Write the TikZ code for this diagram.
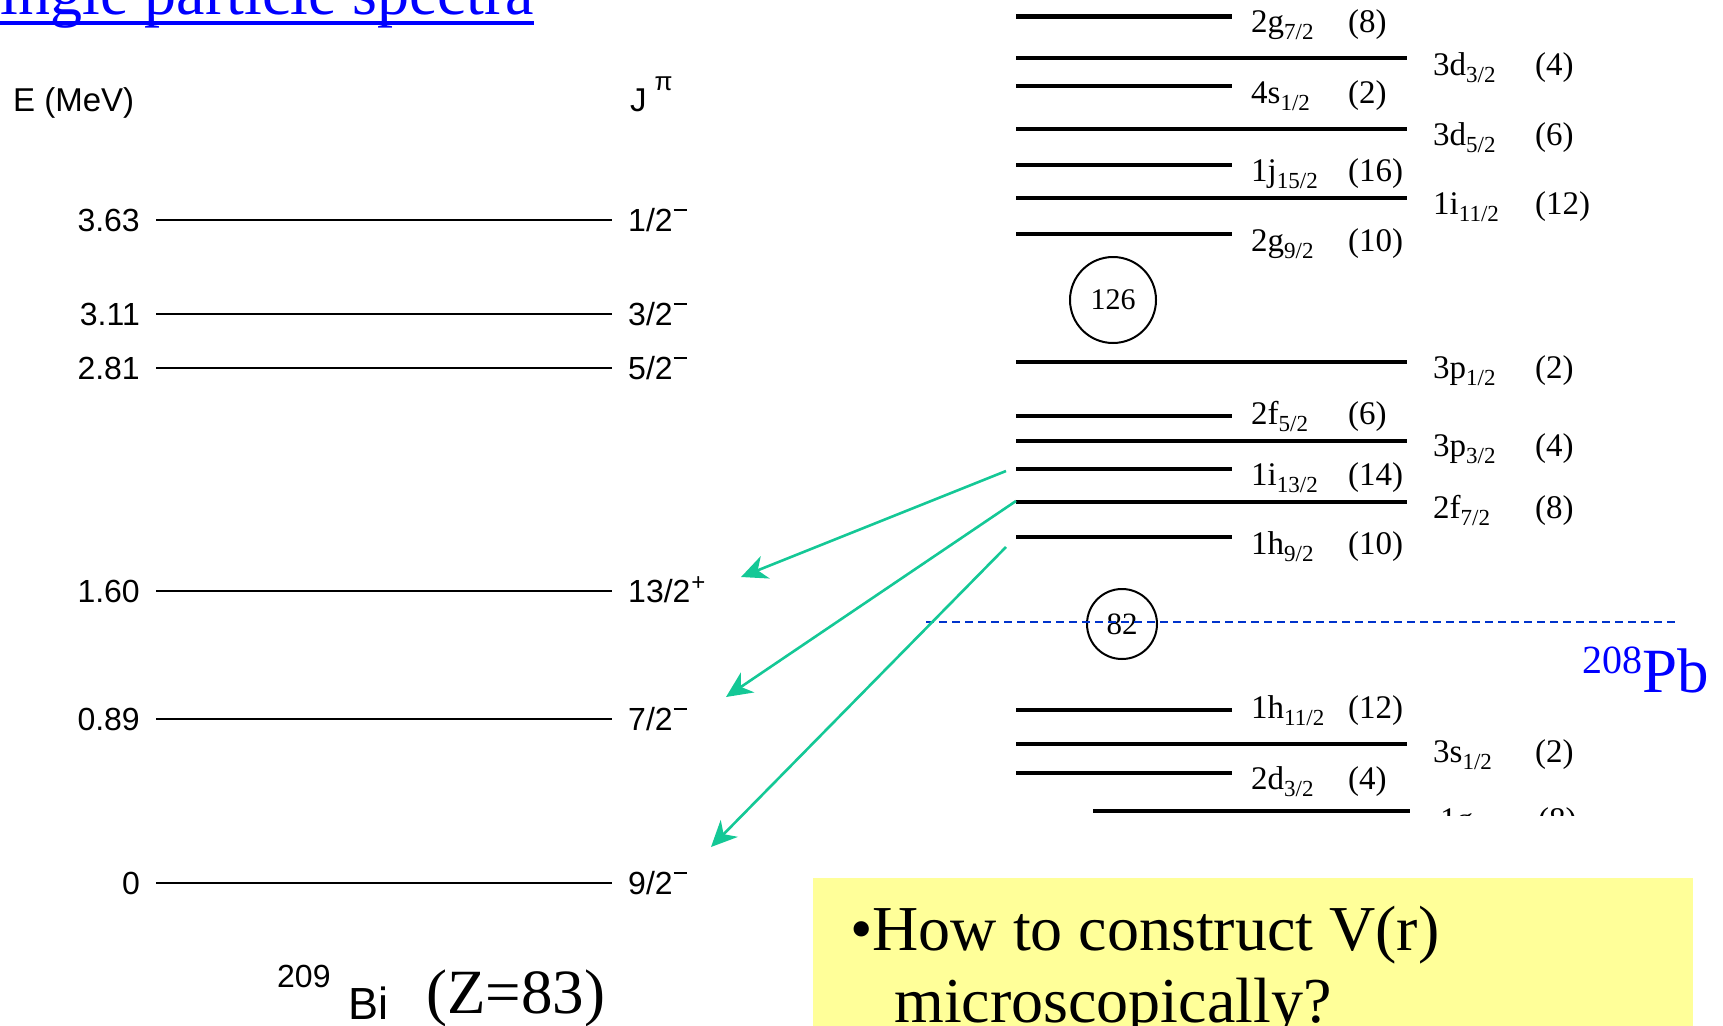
\documentclass[tikz,border=0pt]{standalone}
\usepackage{fontspec}
\setmainfont{Liberation Serif}
\setsansfont{Liberation Sans}
\usetikzlibrary{arrows.meta, positioning, calc}

\definecolor{linkblue}{RGB}{0,0,255}
\definecolor{dashblue}{RGB}{0,51,204}
\definecolor{transgreen}{RGB}{20,200,150}
\definecolor{notebg}{RGB}{255,255,153}

% orbital label with lowered j
\newcommand{\orb}[2]{#1\raisebox{-7pt}{\fontsize{23}{23}\selectfont #2}}
% parity marks
\newcommand{\parm}{\hspace{1pt}\raisebox{21pt}{\rule{13pt}{1.8pt}}}
\newcommand{\parp}{\hspace{1pt}\raisebox{12pt}{\fontsize{24}{24}\selectfont +}}

\tikzset{
  bilevel/.style={line width=1.8pt},
  pblevel/.style={line width=4.5pt},
  elab/.style={font=\sffamily\fontsize{32}{32}\selectfont, anchor=base east, inner sep=0pt},
  jlab/.style={font=\sffamily\fontsize{32}{32}\selectfont, anchor=base west, inner sep=0pt},
  orblab/.style={font=\fontsize{33}{33}\selectfont, anchor=base west, inner sep=0pt},
  magic/.style={draw, circle, line width=2pt, inner sep=0pt},
  trans/.style={draw=transgreen, line width=2.6pt, -{Stealth[length=26pt,width=24pt,inset=8pt]}},
}

\begin{document}
\begin{tikzpicture}[x=1pt, y=-1pt]
  \useasboundingbox (0,0) rectangle (1723,1025);
  \clip (0,0) rectangle (1723,1025);

  % --- Title ---
  \node[anchor=base east, inner sep=0pt, text=linkblue, font=\fontsize{64}{64}\selectfont]
    (title) at (534,15) {Single particle spectra};
  \draw[linkblue, line width=3.5pt] ($(title.base west)+(0,8)$) -- ($(title.base east)+(0,8)$);

  % --- 209Bi spectrum ---
  \node[anchor=base west, inner sep=0pt, font=\sffamily\fontsize{33}{33}\selectfont]
    (eaxis) at (13,111) {E (MeV)};
  \node[anchor=base west, inner sep=0pt, font=\sffamily\fontsize{33}{33}\selectfont]
    (jaxis) at (630,111) {J\hspace{8pt}\raisebox{21pt}{\fontsize{26}{26}\selectfont π}};
  \foreach \yy/\en/\jj [count=\i] in {220/3.63/{1/2\parm}, 314/3.11/{3/2\parm},
      368/2.81/{5/2\parm}, 591/1.60/{13/2\parp},
      719/0.89/{7/2\parm}, 883/0/{9/2\parm}}
  {
    \draw[bilevel] (156,\yy) -- (612,\yy);
    \node[elab] (e\i) at (140,\yy+11.5) {\en};
    \node[jlab] (j\i) at (628,\yy+11.5) {\jj};
  }
  \node[anchor=base west, inner sep=0pt, font=\sffamily\fontsize{32}{32}\selectfont] (biiso) at (277,987) {209};
  \node[anchor=base west, inner sep=0pt, font=\sffamily\fontsize{45}{45}\selectfont] (bisym) at (348,1019) {Bi};
  \node[anchor=base west, inner sep=0pt, font=\fontsize{63}{63}\selectfont] (biz) at (426,1013) {(Z=83)};

  % --- 208Pb neutron levels ---
  \begin{scope}
    \clip (900,0) rectangle (1723,815);
    % short levels
    \foreach \yy/\bb/\nl/\jj/\dg [count=\i] in {16.5/33/2g/{7/2}/8, 86/103/4s/{1/2}/2,
        165/181/1j/{15/2}/16, 234/251/2g/{9/2}/10, 416/424/2f/{5/2}/6, 469/485/1i/{13/2}/14,
        537/554/1h/{9/2}/10, 710/718/1h/{11/2}/12, 773/789/2d/{3/2}/4}
    {
      \draw[pblevel] (1016,\yy) coordinate (s\i) -- (1232,\yy);
      \node[orblab] (so\i) at (1251,\bb) {\orb{\nl}{\jj}};
      \node[orblab] (sd\i) at (1348,\bb) {(\dg)};
    }
    % long levels
    \foreach \yy/\bb/\nl/\jj/\dg [count=\i] in {58/75/3d/{3/2}/4, 129/145/3d/{5/2}/6,
        198/214/1i/{11/2}/12, 362/378/3p/{1/2}/2, 441/456/3p/{3/2}/4, 502/518/2f/{7/2}/8,
        744/762/3s/{1/2}/2}
    {
      \draw[pblevel] (1016,\yy) coordinate (l\i) -- (1407,\yy);
      \node[orblab] (lo\i) at (1433,\bb) {\orb{\nl}{\jj}};
      \node[orblab] (ld\i) at (1535,\bb) {(\dg)};
    }
    \draw[pblevel] (1093,811) coordinate (l8) -- (1410,811);
    \node[orblab] (lo8) at (1440,830) {\orb{1g}{7/2}};
    \node[orblab] (ld8) at (1538,830) {(8)};
  \end{scope}

  \node[magic, minimum size=86pt, font=\fontsize{30}{30}\selectfont] (m126) at (1113,300) {126};
  \node[magic, minimum size=70pt, font=\fontsize{31}{31}\selectfont] (m82) at (1122,624) {82};
  \draw[dashblue, line width=2.5pt, dash pattern=on 8pt off 5pt] (926,622) -- (1678,622);
  \node[anchor=base west, inner sep=0pt, text=linkblue, font=\fontsize{63}{63}\selectfont]
    (pb) at (1582,692) {\raisebox{19pt}{\fontsize{40}{40}\selectfont 208}Pb};

  % --- transitions ---
  \coordinate (tA) at (741,577);
  \coordinate (tB) at (726,697);
  \coordinate (tC) at (711,847);
  \draw[trans] ($(s6)+(-10,2)$) -- (tA);
  \draw[trans] ($(l6)+(0,-1)$) -- (tB);
  \draw[trans] ($(s7)+(-10,10)$) -- (tC);

  % --- question box ---
  \fill[notebg] (813,878) rectangle (1693,1040);
  \node[anchor=base west, inner sep=0pt, font=\fontsize{64}{64}\selectfont] (q1) at (850,950) {•How to construct V(r)};
  \node[anchor=base west, inner sep=0pt, font=\fontsize{64}{64}\selectfont] (q2) at (894,1022) {microscopically?};
\end{tikzpicture}
\end{document}
